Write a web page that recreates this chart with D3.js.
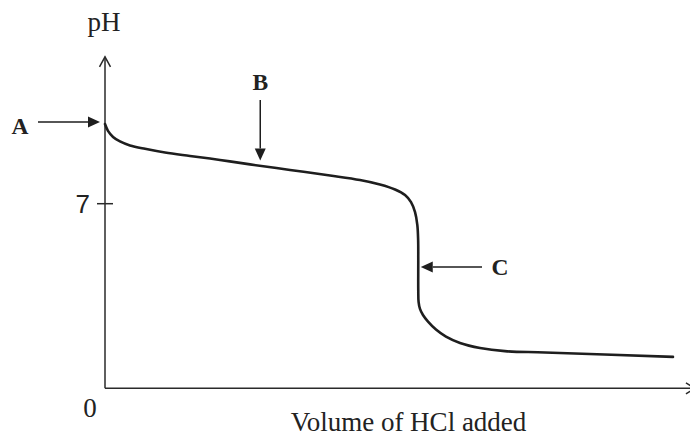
<!DOCTYPE html>
<html>
<head>
<meta charset="utf-8">
<script src="https://cdn.jsdelivr.net/npm/d3@7"></script>
<style>
  html, body { margin: 0; padding: 0; background: #fff; }
  svg { display: block; }
  .serif { font-family: "Liberation Serif", "Times New Roman", serif; fill: #222; }
  .sans { font-family: "Liberation Sans", Arial, sans-serif; fill: #222; }
</style>
</head>
<body>
<div id="chart"></div>
<script>
// titration curve (volume in mL, pH)
var volume = [0, 0.26, 0.7, 1.3, 2.17, 3.48, 5.22, 7.39, 10.0, 12.61, 16.09, 19.57, 22.17, 23.91, 25.22, 26.09, 26.61, 26.96, 27.16, 27.23, 27.24, 27.24, 27.27, 27.39, 27.65, 28.09, 28.78, 29.65, 30.87, 32.61, 34.78, 38.26, 49.39];
var pH     = [10.02, 9.76, 9.53, 9.36, 9.21, 9.08, 8.94, 8.81, 8.66, 8.49, 8.28, 8.07, 7.9, 7.73, 7.54, 7.33, 7.06, 6.68, 6.19, 5.62, 4.87, 3.73, 3.27, 3.01, 2.78, 2.53, 2.23, 1.96, 1.72, 1.53, 1.41, 1.36, 1.19];
var yTicks = [7];
var xTickLabel = ["0"];
var axisLabels = { x: "Volume of HCl added", y: "pH" };
var points = [
  { name: "A", vol: 0,    pH: 10.02 },
  { name: "B", vol: 13.5, pH: 8.45 },
  { name: "C", vol: 27.24, pH: 4.6 }
];

var width = 690, height = 436;
var x = d3.scaleLinear().domain([0, 50]).range([105, 680]);
var y = d3.scaleLinear().domain([0, 7]).range([388.3, 203.7]);
var xAxisEnd = 51.3, yAxisEnd = 12.57;

var svg = d3.select("#chart").append("svg")
  .attr("width", width).attr("height", height);

var ink = "#1e1e1e";

// axes
var axes = svg.append("g").attr("stroke", "#2a2a2a").attr("stroke-width", 1.5).attr("fill", "none");
axes.append("line")
  .attr("x1", x(0)).attr("y1", y(0)).attr("x2", x(0)).attr("y2", y(yAxisEnd));
axes.append("line")
  .attr("x1", x(0)).attr("y1", y(0)).attr("x2", x(xAxisEnd)).attr("y2", y(0));
// open arrow heads
axes.append("path")
  .attr("d", "M" + (x(0) - 5.5) + "," + (y(yAxisEnd) + 10) + "L" + x(0) + "," + y(yAxisEnd) + "L" + (x(0) + 5.5) + "," + (y(yAxisEnd) + 10));
axes.append("path")
  .attr("d", "M" + (x(xAxisEnd) - 9) + "," + (y(0) - 5.5) + "L" + x(xAxisEnd) + "," + y(0) + "L" + (x(xAxisEnd) - 9) + "," + (y(0) + 5.5));

// tick at 7 (crosses axis)
yTicks.forEach(function(t){
  axes.append("line")
    .attr("x1", x(0) - 8).attr("x2", x(0) + 8)
    .attr("y1", y(t)).attr("y2", y(t));
  svg.append("text").attr("class", "sans")
    .attr("x", x(0) - 15).attr("y", y(t) + 9.5)
    .attr("text-anchor", "end").style("font-size", "26px")
    .text(t);
});

svg.append("text").attr("class", "serif")
  .attr("x", x(0) - 15).attr("y", 417)
  .attr("text-anchor", "middle").style("font-size", "27px")
  .text(xTickLabel[0]);

svg.append("text").attr("class", "serif")
  .attr("x", 104).attr("y", 31)
  .attr("text-anchor", "middle").style("font-size", "27px")
  .text(axisLabels.y);

svg.append("text").attr("class", "serif")
  .attr("x", 408.5).attr("y", 431)
  .attr("text-anchor", "middle").style("font-size", "27px")
  .text(axisLabels.x);

// the curve
var data = volume.map(function(v, i){ return [v, pH[i]]; });
var line = d3.line()
  .x(function(d){ return x(d[0]); })
  .y(function(d){ return y(d[1]); })
  .curve(d3.curveCatmullRom.alpha(0.5));

svg.append("path").datum(data)
  .attr("d", line)
  .attr("fill", "none")
  .attr("stroke", ink)
  .attr("stroke-width", 2.6)
  .attr("stroke-linecap", "round");

// annotation arrows
function arrow(x1, y1, x2, y2){
  var ang = Math.atan2(y2 - y1, x2 - x1), len = 12, hw = 5.5;
  var bx = x2 - len * Math.cos(ang), by = y2 - len * Math.sin(ang);
  svg.append("line")
    .attr("x1", x1).attr("y1", y1).attr("x2", bx).attr("y2", by)
    .attr("stroke", ink).attr("stroke-width", 1.5);
  svg.append("path")
    .attr("d", "M" + x2 + "," + y2 +
      "L" + (bx + hw * Math.sin(ang)) + "," + (by - hw * Math.cos(ang)) +
      "L" + (bx - hw * Math.sin(ang)) + "," + (by + hw * Math.cos(ang)) + "Z")
    .attr("fill", ink);
}
function label(t, lx, ly){
  svg.append("text").attr("class", "serif")
    .attr("x", lx).attr("y", ly)
    .attr("text-anchor", "middle")
    .style("font-size", "23.5px").style("font-weight", "bold")
    .text(t);
}

var pa = points[0], pb = points[1], pc = points[2];
arrow(38, y(pa.pH) - 2, x(pa.vol) - 5, y(pa.pH) - 2);
label(pa.name, 20, 134);

arrow(x(pb.vol), 100, x(pb.vol), y(pb.pH) - 5);
label(pb.name, x(pb.vol), 90);

arrow(482, y(pc.pH), x(pc.vol) + 2.5, y(pc.pH));
label(pc.name, 500, 275);
</script>
</body>
</html>
